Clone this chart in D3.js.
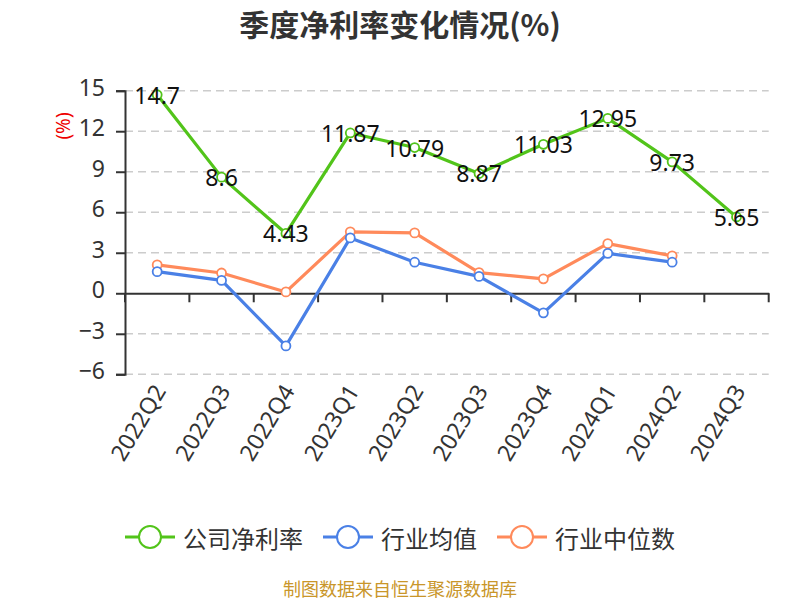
<!DOCTYPE html>
<html><head><meta charset="utf-8">
<script src="https://cdn.jsdelivr.net/npm/d3@7/dist/d3.min.js"></script>
<style>body{margin:0;background:#fff;} svg{display:block;}</style>
</head><body>
<svg id="c" width="800" height="600"></svg>
<script>
const categories = ["2022Q2","2022Q3","2022Q4","2023Q1","2023Q2","2023Q3","2023Q4","2024Q1","2024Q2","2024Q3"];
const companyNetMargin = [14.7, 8.6, 4.43, 11.87, 10.79, 8.87, 11.03, 12.95, 9.73, 5.65];
const industryAvg = [1.6, 0.95, -3.9, 4.1, 2.3, 1.25, -1.45, 2.95, 2.3, null];
const industryMedian = [2.1, 1.5, 0.1, 4.55, 4.47, 1.53, 1.07, 3.68, 2.77, null];
const yTicks = [-6, -3, 0, 3, 6, 9, 12, 15];
const seriesNames = ["公司净利率", "行业均值", "行业中位数"];
const seriesColors = ["#52c41a", "#4a80e6", "#ff8a5b"];

const svg = d3.select("#c");
const latin = "'Noto Sans','Noto Sans CJK SC',sans-serif";
const cjk = "'Noto Sans CJK SC','Noto Sans',sans-serif";
const L = 125, R = 768.7, T = 90.7, B = 374.3;
const x = d3.scaleBand().domain(categories).range([L, R]).padding(0);
const y = d3.scaleLinear().domain([-6, 15]).range([B, T]);
const cx = d => x(d) + x.bandwidth() / 2;

// title
svg.append("text").attr("x", 400).attr("y", 23).attr("text-anchor", "middle")
  .attr("dominant-baseline", "central").attr("font-family", cjk).attr("font-weight", "bold")
  .attr("font-size", 30).attr("fill", "#333").text("季度净利率变化情况(%)");

// gridlines
svg.append("g").selectAll("line").data(yTicks.filter(t => t !== 0)).join("line")
  .attr("x1", L).attr("x2", R).attr("y1", d => y(d)).attr("y2", d => y(d))
  .attr("stroke", "#ccc").attr("stroke-width", 1.5).attr("stroke-dasharray", "8,5");

// y axis
const yAxis = svg.append("g").attr("transform", `translate(${L},0)`)
  .call(d3.axisLeft(y).tickValues(yTicks).tickSize(9).tickPadding(11).tickFormat(d3.format("d")));
yAxis.select(".domain").attr("stroke", "#333").attr("stroke-width", 2);
yAxis.selectAll(".tick line").attr("stroke", "#333").attr("stroke-width", 2);
yAxis.selectAll(".tick text").attr("font-family", latin).attr("font-size", 23).attr("fill", "#333").attr("dy", "0.2em");

// y axis name
svg.append("text").attr("transform", `translate(63,126) rotate(-90)`).attr("text-anchor", "middle")
  .attr("dominant-baseline", "central").attr("font-family", latin).attr("font-size", 19)
  .attr("fill", "#e00").text("(%)");

// x axis at zero
const xAxis = svg.append("g").attr("transform", `translate(0,${y(0)})`)
  .call(d3.axisBottom(x).tickSize(0).tickFormat(""));
xAxis.select(".domain").attr("stroke", "#333").attr("stroke-width", 2);
const bounds = categories.map(c => x(c)).concat([R]);
svg.append("g").selectAll("line").data(bounds).join("line")
  .attr("x1", d => d).attr("x2", d => d).attr("y1", y(0)).attr("y2", y(0) + 9)
  .attr("stroke", "#333").attr("stroke-width", 2);

// x labels at bottom
svg.append("g").selectAll("text").data(categories).join("text")
  .attr("transform", d => `translate(${cx(d) + 2},${B + 12}) rotate(-59)`)
  .attr("text-anchor", "end").attr("dominant-baseline", "central")
  .attr("font-family", latin).attr("font-size", 23).attr("fill", "#333").text(d => d);

// lines
const allSeries = [companyNetMargin, industryAvg, industryMedian];
const line = d3.line().defined(d => d.v != null).x(d => cx(d.c)).y(d => y(d.v));
[2, 1, 0].forEach(i => {
  const data = categories.map((c, j) => ({c, v: allSeries[i][j]}));
  svg.append("path").datum(data).attr("d", line).attr("fill", "none")
    .attr("stroke", seriesColors[i]).attr("stroke-width", 3.2).attr("stroke-linejoin", "round");
  svg.append("g").selectAll("circle").data(data.filter(d => d.v != null)).join("circle")
    .attr("cx", d => cx(d.c)).attr("cy", d => y(d.v)).attr("r", 4.5)
    .attr("fill", "#fff").attr("stroke", seriesColors[i]).attr("stroke-width", 1.8);
});

// value labels
svg.append("g").selectAll("text").data(categories.map((c, j) => ({c, v: companyNetMargin[j]}))).join("text")
  .attr("x", d => cx(d.c)).attr("y", d => y(d.v)).attr("text-anchor", "middle")
  .attr("dominant-baseline", "central").attr("font-family", latin).attr("font-size", 23)
  .attr("fill", "#111").text(d => d.v);

// legend
const lg = svg.append("g");
const items = seriesNames.map((n, i) => {
  const g = lg.append("g");
  g.append("line").attr("x1", 0).attr("x2", 50).attr("y1", 0).attr("y2", 0)
    .attr("stroke", seriesColors[i]).attr("stroke-width", 3);
  g.append("circle").attr("cx", 25).attr("cy", 0).attr("r", 11)
    .attr("fill", "#fff").attr("stroke", seriesColors[i]).attr("stroke-width", 2);
  const t = g.append("text").attr("x", 58).attr("y", 0).attr("dominant-baseline", "central")
    .attr("font-family", cjk).attr("font-size", 24).attr("fill", "#333").text(n);
  return {g, w: 58 + t.node().getComputedTextLength()};
});
const gap = 20;
const total = d3.sum(items, d => d.w) + gap * (items.length - 1);
let off = 400 - total / 2;
items.forEach(it => { it.g.attr("transform", `translate(${off},537)`); off += it.w + gap; });

// footer
svg.append("text").attr("x", 400).attr("y", 588).attr("text-anchor", "middle")
  .attr("dominant-baseline", "central").attr("font-family", cjk).attr("font-size", 18)
  .attr("fill", "#c9962a").text("制图数据来自恒生聚源数据库");
</script>
</body></html>
